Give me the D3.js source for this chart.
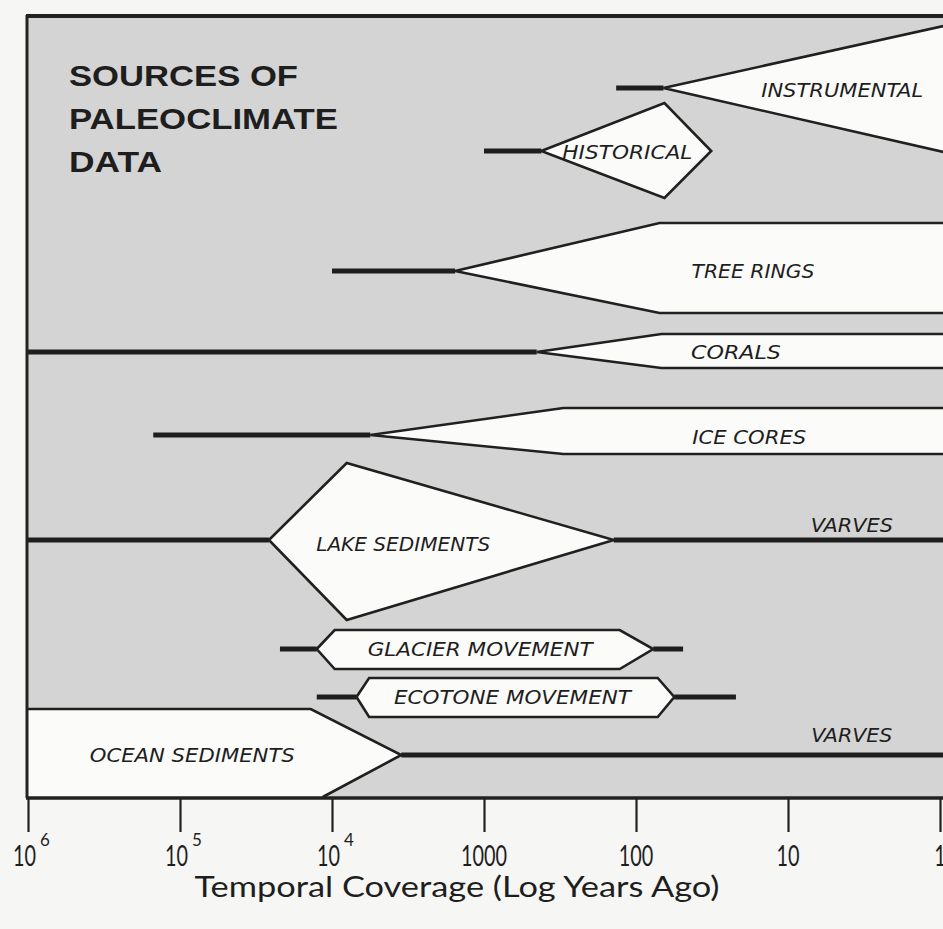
<!DOCTYPE html>
<html>
<head>
<meta charset="utf-8">
<script src="https://cdn.jsdelivr.net/npm/d3@7"></script>
<style>
  body { margin: 0; background: #f6f6f4; }
  text { fill: #1e1e1e; }
  .lab { font-family: "Liberation Sans Narrow", "DejaVu Sans Condensed", "Liberation Sans", sans-serif; font-style: italic; font-size: 19px; }
  .ttl { font-family: "Liberation Sans", Arial, sans-serif; font-weight: bold; font-size: 30px; }
  .tick { font-family: "Lato", "Liberation Sans", sans-serif; font-size: 28px; }
  .axt { font-family: "Lato", "Liberation Sans", sans-serif; font-size: 28px; }
</style>
</head>
<body>
<script>
// Jahre vor heute (log), gelesen aus der Grafik
var present = 0.95   // rechter Bildrand
var tickYears = [1e6, 1e5, 1e4, 1000, 100, 10, 1]
var tickBase = ["10", "10", "10", "1000", "100", "10", "1"]
var tickExp = ["6", "5", "4", "", "", "", ""]

var proxies = ["INSTRUMENTAL", "HISTORICAL", "TREE RINGS", "CORALS", "ICE CORES",
               "LAKE SEDIMENTS", "GLACIER MOVEMENT", "ECOTONE MOVEMENT", "OCEAN SEDIMENTS"]

// Stützjahre je Quelle (Linie beginnt, Form beginnt, ... bis heute)
var instrumentalYears = [135, 66, present]
var historicalYears = [1000, 420, 65, 32]
var treeRingYears = [10000, 1550, 70, present]
var coralYears = [1e6, 450, 68, present]
var iceCoreYears = [150000, 5600, 300, present]
var lakeYears = [1e6, 26000, 8000, 140, present]
var glacierYears = [22000, 12600, 9600, 128, 77, 49]
var ecotoneYears = [12600, 6900, 5700, 72, 56, 22]
var oceanYears = [1e6, 13800, 3500, 11500, present]

var titleLines = ["SOURCES OF", "PALEOCLIMATE", "DATA"]
var axisTitle = "Temporal Coverage (Log Years Ago)"

var width = 943
var height = 929
var margin = { top: 15, bottom: 798, left: 26 }

var x = d3.scaleLog()
  .domain([1e6, 1])
  .range([28, 940])

var svg = d3.select("body").append("svg")
  .attr("width", width)
  .attr("height", height)

svg.append("rect").attr("width", width).attr("height", height).attr("fill", "#f6f6f4")

// grauer Hintergrund
svg.append("rect")
  .attr("x", margin.left).attr("y", margin.top)
  .attr("width", width - margin.left).attr("height", margin.bottom - margin.top)
  .attr("fill", "#d4d4d4")

var line = d3.line().x(d => x(d[0])).y(d => d[1])

function shape(fillPts, strokePts, closed) {
  svg.append("path")
    .attr("d", line(fillPts) + "Z")
    .attr("fill", "#fbfbfa")
  svg.append("path")
    .attr("d", line(strokePts) + (closed ? "Z" : ""))
    .attr("fill", "none")
    .attr("stroke", "#202020")
    .attr("stroke-width", 2.6)
    .attr("stroke-linejoin", "miter")
}

function bar(y0, y1, yy) {
  svg.append("path")
    .attr("d", line([[y0, yy], [y1, yy]]))
    .attr("stroke", "#1e1e1e")
    .attr("stroke-width", 5)
}

// INSTRUMENTAL
var a = instrumentalYears
bar(a[0], a[1], 88)
shape([[a[1], 88], [a[2], 26], [a[2], 152]], [[a[2], 26], [a[1], 88], [a[2], 152]], false)

// HISTORICAL
a = historicalYears
bar(a[0], a[1], 151)
var dia = [[a[1], 151], [a[2], 103], [a[3], 151], [a[2], 198]]
shape(dia, dia, true)

// TREE RINGS
a = treeRingYears
bar(a[0], a[1], 271)
var tr = [[a[3], 223], [a[2], 223], [a[1], 271], [a[2], 313], [a[3], 313]]
shape(tr, tr, false)

// CORALS
a = coralYears
bar(a[0], a[1], 352)
var co = [[a[3], 334], [a[2], 334], [a[1], 352], [a[2], 368], [a[3], 368]]
shape(co, co, false)

// ICE CORES
a = iceCoreYears
bar(a[0], a[1], 435)
var ic = [[a[3], 408], [a[2], 408], [a[1], 435], [a[2], 454], [a[3], 454]]
shape(ic, ic, false)

// LAKE SEDIMENTS
a = lakeYears
bar(a[0], a[1], 540)
bar(a[3], a[4], 540)
var lk = [[a[1], 540], [a[2], 463], [a[3], 540], [a[2], 620]]
shape(lk, lk, true)

// GLACIER MOVEMENT
a = glacierYears
bar(a[0], a[1], 649)
bar(a[4], a[5], 649)
var gl = [[a[1], 649], [a[2], 630], [a[3], 630], [a[4], 649], [a[3], 669], [a[2], 669]]
shape(gl, gl, true)

// ECOTONE MOVEMENT
a = ecotoneYears
bar(a[0], a[1], 697)
bar(a[4], a[5], 697)
var ec = [[a[1], 697], [a[2], 678], [a[3], 678], [a[4], 697], [a[3], 717], [a[2], 717]]
shape(ec, ec, true)

// OCEAN SEDIMENTS
a = oceanYears
var oc = [[a[0], 709], [a[1], 709], [a[2], 755], [a[3], 797], [a[0], 797]]
shape(oc, oc.slice(0, 4), false)
bar(a[2], a[4], 755)

// Beschriftungen (Mitte in Jahren)
var labels = [
  { t: proxies[0], yr: 4.4, y: 90, w: 162 },
  { t: proxies[1], yr: 114, y: 152, w: 130 },
  { t: proxies[2], yr: 17, y: 271, w: 123 },
  { t: proxies[3], yr: 22, y: 352, w: 90 },
  { t: proxies[4], yr: 18, y: 437, w: 114 },
  { t: "VARVES", yr: 3.8, y: 525, w: 82 },
  { t: proxies[5], yr: 3400, y: 544, w: 174 },
  { t: proxies[6], yr: 1060, y: 649, w: 225 },
  { t: proxies[7], yr: 650, y: 697, w: 237 },
  { t: proxies[8], yr: 83000, y: 755, w: 205 },
  { t: "VARVES", yr: 3.8, y: 735, w: 81 }
]
svg.selectAll("text.lab")
  .data(labels)
  .enter().append("text")
  .attr("class", "lab")
  .attr("x", d => x(d.yr))
  .attr("y", d => d.y)
  .attr("dy", "0.36em")
  .attr("text-anchor", "middle")
  .attr("textLength", d => d.w)
  .attr("lengthAdjust", "spacingAndGlyphs")
  .text(d => d.t)

// Titel
var titleW = [229, 269, 93]
svg.selectAll("text.ttl")
  .data(titleLines)
  .enter().append("text")
  .attr("class", "ttl")
  .attr("x", 69)
  .attr("y", (d, i) => 86 + i * 43)
  .attr("textLength", (d, i) => titleW[i])
  .attr("lengthAdjust", "spacingAndGlyphs")
  .text(d => d)

// Rahmen
svg.append("line").attr("x1", margin.left).attr("x2", width).attr("y1", margin.top + 1).attr("y2", margin.top + 1)
  .attr("stroke", "#222").attr("stroke-width", 4)
svg.append("line").attr("x1", margin.left + 1).attr("x2", margin.left + 1).attr("y1", margin.top).attr("y2", margin.bottom)
  .attr("stroke", "#222").attr("stroke-width", 3)

// X-Achse
var ejeX = d3.axisBottom(x)
  .tickValues(tickYears)
  .tickSize(34)
  .tickFormat("")
var gx = svg.append("g")
  .attr("transform", "translate(0," + margin.bottom + ")")
  .call(ejeX)
gx.select(".domain").remove()
gx.selectAll(".tick line").attr("stroke", "#222").attr("stroke-width", 2.2)
svg.append("line").attr("x1", margin.left).attr("x2", width).attr("y1", margin.bottom).attr("y2", margin.bottom)
  .attr("stroke", "#222").attr("stroke-width", 3.5)

// Tick-Beschriftung, Exponent als tspan
tickYears.forEach(function (v, i) {
  var cx = x(v)
  var base = tickBase[i]
  var w = base.length * 11.5
  var t = svg.append("text").attr("class", "tick")
    .attr("y", 866)
  if (tickExp[i]) {
    t.attr("x", cx - 15).attr("text-anchor", "start")
    t.append("tspan").attr("textLength", w).attr("lengthAdjust", "spacingAndGlyphs").text(base)
    t.append("tspan").attr("dx", 4).attr("dy", -20).style("font-size", "17px").text(tickExp[i])
  } else {
    t.attr("x", cx).attr("text-anchor", "middle")
      .attr("textLength", w).attr("lengthAdjust", "spacingAndGlyphs")
      .text(base)
  }
})

svg.append("text").attr("class", "axt")
  .attr("x", 457).attr("y", 897)
  .attr("text-anchor", "middle")
  .attr("textLength", 525).attr("lengthAdjust", "spacingAndGlyphs")
  .text(axisTitle)
</script>
</body>
</html>
